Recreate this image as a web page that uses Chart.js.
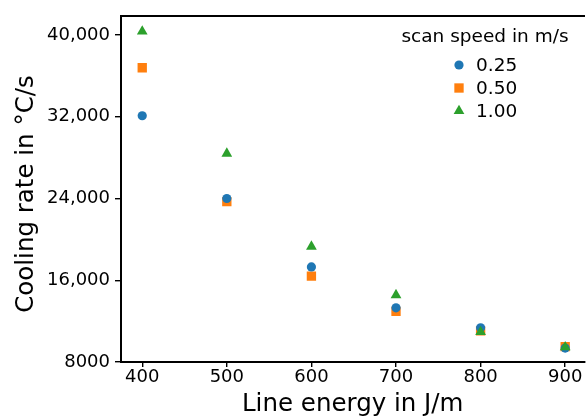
<!DOCTYPE html>
<html>
<head>
  <title>Cooling rate vs line energy</title>
  <script src="https://cdn.jsdelivr.net/npm/chart.js"></script>
  <style>
    html, body { margin: 0; background: #fff; overflow: hidden; }
    /* a little wider than the window so the plot runs off the right edge */
    #wrap { position: relative; width: 591px; height: 419px; }
  </style>
</head>
<body>
  <div id="wrap"><canvas id="coolingChart"></canvas></div>

  <script>
    // line energy in J/m
    const energies = [400, 500, 600, 700, 800, 900];
    // cooling rate in °C/s for each scan speed
    const rate025 = [32100, 24000, 17300, 13300, 11350, 9360];
    const rate050 = [36800, 23700, 16400, 12950, 11050, 9500];
    const rate100 = [40350, 28400, 19300, 14550, 10950, 9450];

    const speedLabels = ['0.25', '0.50', '1.00'];
    const xTicks = [400, 500, 600, 700, 800, 900];
    const yTicks = [8000, 16000, 24000, 32000, 40000];
    const yTickLabels = ['8000', '16,000', '24,000', '32,000', '40,000'];

    const font = '"DejaVu Sans", Verdana, sans-serif';
    Chart.defaults.color = '#000';
    Chart.defaults.font.family = font;

    const toPoints = ys => energies.map((x, i) => ({ x: x, y: ys[i] }));

    const series = [
      { label: speedLabels[0], data: toPoints(rate025), color: '#1f77b4', style: 'circle', radius: 4.6, order: 1 },
      { label: speedLabels[1], data: toPoints(rate050), color: '#ff7f0e', style: 'rect', radius: 6.6, order: 2 },
      { label: speedLabels[2], data: toPoints(rate100), color: '#2ca02c', style: 'triangle', radius: 6.2, order: 0 }
    ];

    const noSidePadding = scale => {
      scale.paddingLeft = 0;
      scale.paddingRight = 0;
    };

    // y title and the legend in the upper right corner
    const annotations = {
      id: 'annotations',
      afterDatasetsDraw(chart) {
        const ctx = chart.ctx;
        ctx.save();
        ctx.fillStyle = '#000';
        ctx.textBaseline = 'middle';
        ctx.textAlign = 'center';

        ctx.save();
        ctx.translate(26.6, 194);
        ctx.rotate(-Math.PI / 2);
        ctx.font = '24.5px ' + font;
        ctx.fillText('Cooling rate in °C/s', 0, 0);
        ctx.restore();

        ctx.font = '18.5px ' + font;
        ctx.fillText('scan speed in m/s', 485, 37.5);
        ctx.textAlign = 'left';
        series.forEach((s, i) => {
          const y = 65 + i * 23;
          ctx.fillStyle = s.color;
          ctx.strokeStyle = s.color;
          ctx.lineWidth = 0;
          Chart.helpers.drawPoint(ctx, { pointStyle: s.style, radius: s.radius, borderWidth: 0 }, 459, y);
          ctx.fillStyle = '#000';
          ctx.fillText(s.label, 476, y + 1);
        });
        ctx.restore();
      }
    };

    new Chart(document.getElementById('coolingChart'), {
      type: 'scatter',
      data: {
        datasets: series.map(s => ({
          label: s.label,
          data: s.data,
          order: s.order,
          pointStyle: s.style,
          pointRadius: s.radius,
          pointHoverRadius: s.radius,
          backgroundColor: s.color,
          borderColor: s.color,
          borderWidth: 0
        }))
      },
      options: {
        responsive: true,
        maintainAspectRatio: false,
        animation: false,
        layout: { padding: { top: 14, right: 0, bottom: 0, left: 0 } },
        plugins: {
          legend: { display: false },
          tooltip: { enabled: false }
        },
        scales: {
          x: {
            type: 'linear',
            position: 'bottom',
            min: 374.9,
            max: 922.7,
            afterBuildTicks: scale => { scale.ticks = xTicks.map(v => ({ value: v })); },
            afterFit: scale => { scale.height = 57; noSidePadding(scale); },
            grid: { display: true, drawOnChartArea: false, drawTicks: true, tickLength: 5, color: '#000', lineWidth: 1.4 },
            border: { display: true, color: '#000', width: 2 },
            ticks: { autoSkip: false, maxRotation: 0, padding: 0, font: { size: 18 } },
            title: { display: true, text: 'Line energy in J/m', font: { size: 24.5 }, padding: { top: 0, bottom: 0 } }
          },
          xTop: {
            type: 'linear',
            position: 'top',
            min: 374.9,
            max: 922.7,
            afterFit: scale => { scale.height = 0; noSidePadding(scale); },
            grid: { display: false },
            border: { display: true, color: '#000', width: 2 },
            ticks: { display: false }
          },
          y: {
            type: 'linear',
            min: 8000,
            max: 41880,
            afterBuildTicks: scale => { scale.ticks = yTicks.map(v => ({ value: v })); },
            afterFit: scale => { scale.width = 121; },
            grid: { display: true, drawOnChartArea: false, drawTicks: true, tickLength: 6, color: '#000', lineWidth: 1.4 },
            border: { display: true, color: '#000', width: 2 },
            ticks: {
              autoSkip: false,
              padding: 5,
              font: { size: 18 },
              callback: (v) => yTickLabels[yTicks.indexOf(v)]
            }
          }
        }
      },
      plugins: [annotations]
    });
  </script>
</body>
</html>
